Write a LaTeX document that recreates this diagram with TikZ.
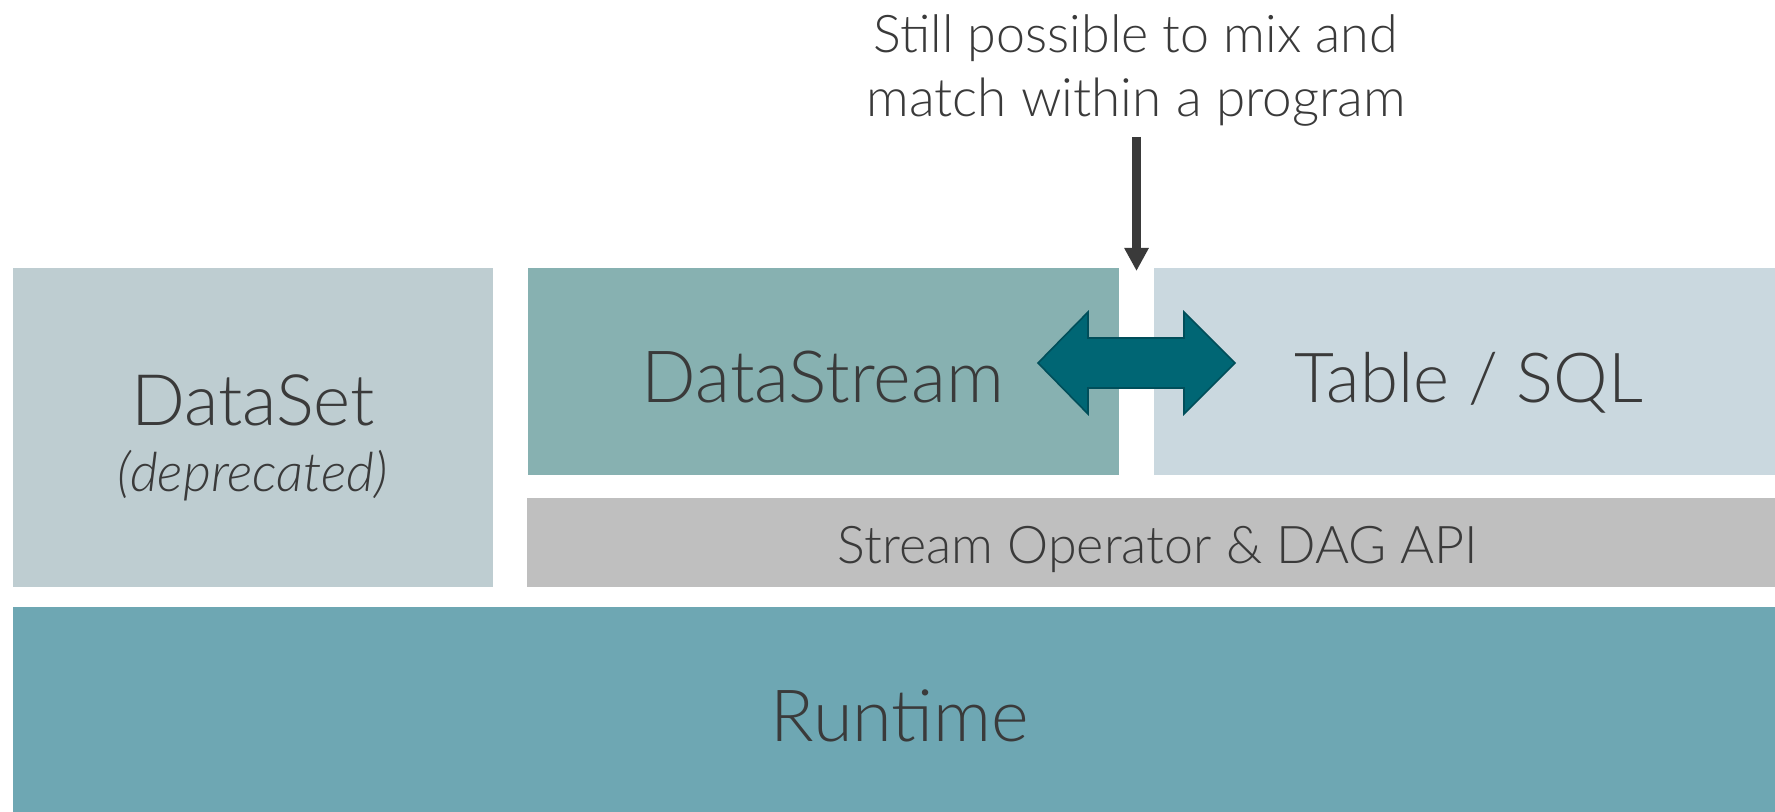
\documentclass[tikz,border=0pt]{standalone}
\usepackage{fontspec}
\setmainfont{Lato Light}
\usetikzlibrary{arrows.meta}
\definecolor{dsetc}{HTML}{BECDD1}
\definecolor{dstrc}{HTML}{87B1B1}
\definecolor{tablc}{HTML}{CAD8DF}
\definecolor{grayc}{HTML}{BFBFBF}
\definecolor{runc}{HTML}{6EA7B3}
\definecolor{txtc}{HTML}{3A3A3A}
\definecolor{arrc}{HTML}{006674}
\definecolor{arrb}{HTML}{004E5A}
\begin{document}
\begin{tikzpicture}[x=0.5pt,y=-0.5pt,
  layer/.style={draw=none, inner sep=0pt, outer sep=0pt, anchor=north west},
  lbl/.style={text=txtc, inner sep=0pt, anchor=base},
  big/.style={lbl, font=\fontsize{36}{42}\selectfont},
  mid/.style={lbl, font=\fontsize{26}{31}\selectfont}]
\useasboundingbox (0,0) rectangle (1775,812);
\fill[white] (0,0) rectangle (1775,812);
% layers
\node[layer, fill=dsetc, minimum width=240pt, minimum height=159.5pt] (dataset) at (13,268) {};
\node[layer, fill=dstrc, minimum width=295.5pt, minimum height=103.5pt] (datastream) at (528,268) {};
\node[layer, fill=tablc, minimum width=310.5pt, minimum height=103.5pt] (table) at (1154,268) {};
\node[layer, fill=grayc, minimum width=624pt, minimum height=44.5pt] (streamop) at (527,498) {};
\node[layer, fill=runc, minimum width=881pt, minimum height=102.5pt] (runtime) at (13,607) {};
% labels
\node[big, font=\fontsize{35.5}{42}\selectfont] (tdataset) at (253,425) {DataSet};
\node[lbl, font=\fontsize{27}{32}\selectfont\itshape] (tdepr) at (253,491) {(deprecated)};
\node[big] (tdatastream) at (823,402) {DataStream};
\node[big, font=\fontsize{34.5}{40}\selectfont] (ttable) at (1469,402) {Table / SQL};
\node[mid] (tstreamop) at (1158,563) {Stream Operator \& DAG API};
\node[big] (truntime) at (900,741) {Runtime};
\node[mid] (note1) at (1136,53) {Still possible to mix and};
\node[mid, font=\fontsize{26.5}{31}\selectfont] (note2) at (1136,117) {match within a program};
% arrows
\coordinate (astart) at (1136.5,137);
\coordinate (aend) at (1136.5,271);
\draw[txtc, line width=4.5pt, -{Triangle[width=11.5pt,length=11.5pt]}] (astart) -- (aend);
\draw[arrb, fill=arrc, line width=0.8pt, line join=miter]
  (1038,363) -- (1088,312) -- (1088,338) -- (1184,338) -- (1184,312) -- (1235,363)
  -- (1184,414) -- (1184,388) -- (1088,388) -- (1088,414) -- cycle;
\end{tikzpicture}
\end{document}
